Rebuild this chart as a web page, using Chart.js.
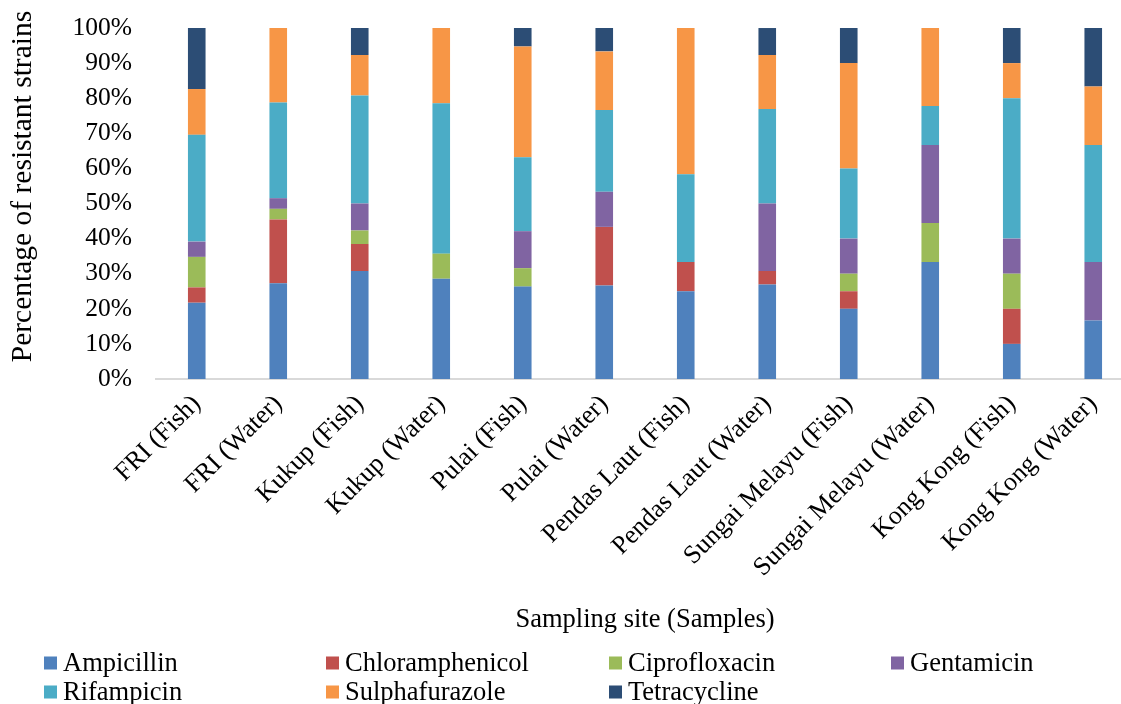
<!DOCTYPE html>
<html>
<head>
<meta charset="utf-8">
<script src="https://cdn.jsdelivr.net/npm/chart.js@4"></script>
<style>
  html, body { margin: 0; padding: 0; background: #fff; overflow: hidden; }
  #wrap { position: relative; width: 1140px; height: 704px; }
</style>
</head>
<body>
<div id="wrap"><canvas id="c"></canvas></div>
<script>
const categories = ["FRI (Fish)", "FRI (Water)", "Kukup (Fish)", "Kukup (Water)", "Pulai (Fish)", "Pulai (Water)", "Pendas Laut (Fish)", "Pendas Laut (Water)", "Sungai Melayu (Fish)", "Sungai Melayu (Water)", "Kong Kong (Fish)", "Kong Kong (Water)"];
const ampicillin      = [21.74, 27.27, 30.77, 28.57, 26.32, 26.67, 25.00, 26.92, 20, 33.33, 10, 16.67];
const chloramphenicol = [4.35, 18.18, 7.69, 0, 0, 16.67, 8.33, 3.85, 5, 0, 10, 0];
const ciprofloxacin   = [8.70, 3.03, 3.85, 7.14, 5.26, 0, 0, 0, 5, 11.11, 10, 0];
const gentamicin      = [4.35, 3.03, 7.69, 0, 10.53, 10.00, 0, 19.23, 10, 22.22, 10, 16.67];
const rifampicin      = [30.43, 27.27, 30.77, 42.86, 21.05, 23.33, 25.00, 26.92, 20, 11.11, 40, 33.33];
const sulphafurazole  = [13.04, 21.21, 11.54, 21.43, 31.58, 16.67, 41.67, 15.38, 30, 22.22, 10, 16.67];
const tetracycline    = [17.39, 0, 7.69, 0, 5.26, 6.67, 0, 7.69, 10, 0, 10, 16.67];
const seriesNames = ["Ampicillin", "Chloramphenicol", "Ciprofloxacin", "Gentamicin", "Rifampicin", "Sulphafurazole", "Tetracycline"];
const yTicks = [0, 10, 20, 30, 40, 50, 60, 70, 80, 90, 100];
const yTitle = "Percentage of resistant strains";
const xTitle = "Sampling site (Samples)";

const seriesData = [ampicillin, chloramphenicol, ciprofloxacin, gentamicin, rifampicin, sulphafurazole, tetracycline];
const colors = ["#4F81BD", "#C0504D", "#9BBB59", "#8064A2", "#4BACC6", "#F79646", "#2C4D75"];
const FONT = "'Liberation Serif', 'Times New Roman', serif";

const extras = {
  id: 'extras',
  afterDraw(chart) {
    const ctx = chart.ctx;
    ctx.save();
    // y axis title
    ctx.translate(23, 186.5);
    ctx.rotate(-Math.PI / 2);
    ctx.font = "29.5px " + FONT;
    ctx.fillStyle = '#000';
    ctx.textAlign = 'center';
    ctx.textBaseline = 'middle';
    ctx.fillText(yTitle, 0, 0);
    ctx.restore();
    // legend grid
    const cols = [44, 326, 609, 891];
    const rows = [663, 692];
    ctx.save();
    ctx.font = "26.5px " + FONT;
    ctx.textBaseline = 'middle';
    ctx.textAlign = 'left';
    chart.data.datasets.forEach((ds, i) => {
      const x = cols[i % 4], y = rows[Math.floor(i / 4)];
      ctx.fillStyle = ds.backgroundColor;
      ctx.fillRect(x, y - 6.5, 13, 13);
      ctx.fillStyle = '#000';
      ctx.fillText(ds.label, x + 19, y + 1);
    });
    ctx.restore();
  }
};

const chart = new Chart(document.getElementById('c'), {
  type: 'bar',
  data: {
    labels: categories,
    datasets: seriesNames.map((n, i) => ({
      label: n,
      data: seriesData[i],
      backgroundColor: colors[i],
      borderWidth: 0,
      categoryPercentage: 1,
      barPercentage: 0.216
    }))
  },
  options: {
    responsive: true,
    maintainAspectRatio: false,
    animation: false,
    layout: { padding: { top: 28, right: 6, bottom: 60, left: 0 } },
    plugins: { legend: { display: false }, tooltip: { enabled: false } },
    scales: {
      x: {
        stacked: true,
        grid: { display: false },
        border: { display: true, color: '#d9d9d9', width: 2 },
        ticks: { color: '#000', font: { family: FONT, size: 26 }, minRotation: 45, maxRotation: 45, autoSkip: false, padding: 2 },
        title: { display: true, text: xTitle, color: '#000', font: { family: FONT, size: 26.5 }, padding: { top: 0, bottom: 8 } },
        afterFit: (s) => { s.height = 265; }
      },
      y: {
        stacked: true,
        min: 0, max: 100,
        grid: { display: false },
        border: { display: false },
        afterBuildTicks: (s) => { s.ticks = yTicks.map(v => ({ value: v })); },
        ticks: { color: '#000', font: { family: FONT, size: 25.5 }, padding: 16, callback: (v) => v + '%' },
        title: { display: false },
        afterFit: (s) => { s.width = 156; s.paddingTop = 0; s.paddingBottom = 0; }
      }
    }
  },
  plugins: [extras]
});
</script>
</body>
</html>
